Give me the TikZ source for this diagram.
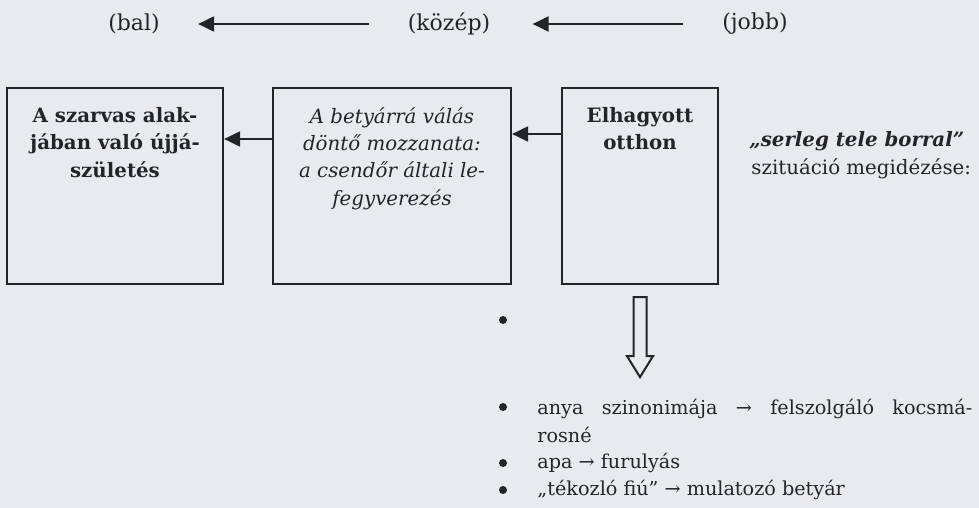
\documentclass[tikz,border=0pt]{standalone}
\usepackage{fontspec}
\setmainfont{DejaVu Serif}
\usetikzlibrary{arrows.meta,positioning}
\definecolor{ink}{RGB}{36,36,40}
\definecolor{paper}{RGB}{231,235,240}
\begin{document}
\begin{tikzpicture}[x=0.5pt,y=-0.5pt,
    every node/.style={text=ink,inner sep=0pt},
    box/.style={draw=ink,line width=1.1pt,minimum height=98pt},
    boxtext/.style={align=center,font=\fontsize{9.9}{13.7}\selectfont#1},
    arr/.style={draw=ink,line width=1pt,-{Triangle[length=8pt,width=7.5pt]}},
    toplabel/.style={font=\fontsize{11}{13}\selectfont},
    item/.style={anchor=base west,font=\fontsize{9.6}{13.5}\selectfont},
    bul/.style={circle,fill=ink,minimum size=4pt}]
    \useasboundingbox (0,0) rectangle (979,508);
    \fill[paper] (0,0) rectangle (979,508);

    \node[toplabel] (bal) at (134,24) {(bal)};
    \node[toplabel] (kozep) at (449,24) {(közép)};
    \node[toplabel] (jobb) at (755,24) {(jobb)};
    \draw [arr,shorten <=19pt,shorten >=19pt] (kozep) to (bal);
    \draw [arr,shorten <=19.5pt,shorten >=21pt] (jobb) to (kozep);

    \node[box,minimum width=108pt] (szarvas) at (115,186) {};
    \node[box,minimum width=119pt] (betyar) at (392,186) {};
    \node[box,minimum width=78pt] (otthon) at (640,186) {};
    \node[boxtext=\bfseries,below=10pt of szarvas.north] (szarvastxt) {A szarvas alak-\\jában való újjá-\\születés};
    \node[boxtext=\itshape,below=10pt of betyar.north] (betyartxt) {A betyárrá válás\\döntő mozzanata:\\a csendőr általi le-\\fegyverezés};
    \node[boxtext=\bfseries,below=10pt of otthon.north] (otthontxt) {Elhagyott\\otthon};
    \draw [arr] ([yshift=23.5pt]betyar.west) to ([yshift=23.5pt]szarvas.east);
    \draw [arr] ([yshift=26pt]otthon.west) to ([yshift=26pt]betyar.east);

    \node[item,font=\fontsize{9.9}{13.5}\selectfont] (serleg) at (749,147) {\bfseries\itshape „serleg tele borral”};
    \node[item,font=\fontsize{9.9}{13.5}\selectfont] (szituacio) at (751,174) {szituáció megidézése:};

    % hollow arrow below the right box
    \draw [draw=ink,line width=1pt] (otthon.south) ++(-6.5,12) -- ++(0,59) -- ++(-6.5,0) -- ++(13,21)
        -- ++(13,-21) -- ++(-6.5,0) -- ++(0,-59) -- cycle;

    \foreach \y in {320,407,463,490}
        \node[bul] (pont\y) at (503,\y) {};
    \node[item] (anya) at (537,414) {\makebox[217.5pt][s]{anya szinonimája → felszolgáló kocsmá-}};
    \node[item] (rosne) at (537,442) {rosné};
    \node[item] (apa) at (537,468) {apa → furulyás};
    \node[item] (tekozlo) at (537,495) {„tékozló fiú” → mulatozó betyár};
\end{tikzpicture}
\end{document}
